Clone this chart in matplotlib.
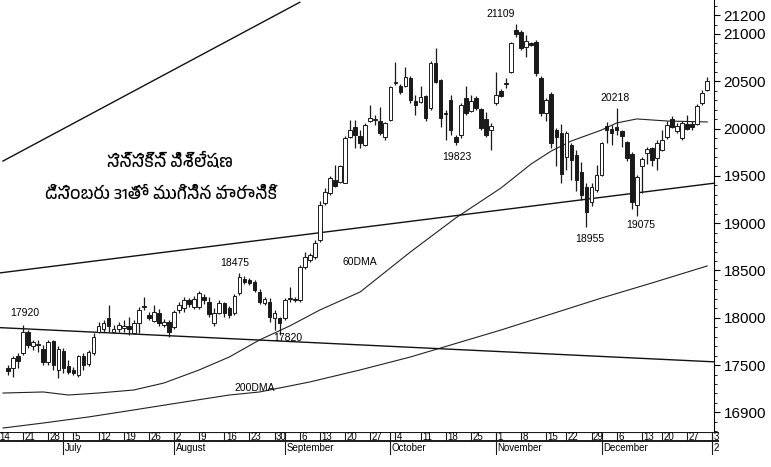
import numpy as np
import pandas as pd
import matplotlib
matplotlib.use('Agg')
import matplotlib.pyplot as plt
from matplotlib.ticker import MultipleLocator
from matplotlib import font_manager
from matplotlib.ft2font import FT2Font

# trading calendar (BSE 2010), holidays removed
holidays = ['2010-09-10', '2010-11-17', '2010-12-17']
days = pd.bdate_range('2010-06-14', '2011-01-03')
days = days[~days.isin(pd.to_datetime(holidays))]

# daily Sensex candles, 16 Jun - 31 Dec 2010 (calendar index 2 onwards)
first_candle = 2
opens = [17470, 17465, 17600, 17625, 17845, 17705, 17715, 17675, 17530, 17755,
         17450, 17650, 17490, 17450, 17395, 17595, 17510, 17625, 17850, 17880,
         17995, 17845, 17880, 17890, 17915, 17835, 17940, 18110, 18030, 17965,
         18050, 17925, 17955, 17905, 18080, 18100, 18188, 18115, 18115, 18225,
         18170, 17940, 18050, 18155, 18100, 18050, 18260, 18405, 18400, 18380,
         18275, 18160, 18170, 17995, 17995, 17995, 18195, 18200, 18190, 18540,
         18610, 18645, 18823, 19210, 19315, 19455, 19440, 19430, 19915, 20020,
         19920, 19827, 20075, 20095, 20075, 19915, 20090, 20480, 20450, 20445,
         20530, 20290, 20285, 20345, 20215, 20690, 20515, 20155, 20300, 19915,
         19930, 20320, 20185, 20320, 20205, 20100, 19985, 20270, 20400, 20475,
         20600, 21040, 21025, 20860, 20900, 20920, 20530, 20160, 20365, 19985,
         19950, 19700, 19827, 19720, 19545, 19385, 19225, 19350, 19510, 20030,
         20000, 20020, 19975, 19860, 19735, 19190, 19600, 19740, 19790, 19685,
         19775, 19915, 20100, 19970, 19900, 20050, 20045, 20050, 20270, 20410]
highs = [17500, 17600, 17625, 17920, 17870, 17765, 17770, 17710, 17765, 17770,
         17700, 17680, 17550, 17480, 17610, 17630, 17660, 17840, 17955, 17975,
         18135, 17925, 17960, 17975, 18010, 17975, 18115, 18215, 18060, 18135,
         18090, 17990, 17975, 18080, 18170, 18220, 18210, 18230, 18280, 18250,
         18225, 18100, 18190, 18170, 18130, 18250, 18475, 18440, 18420, 18400,
         18300, 18220, 18210, 18080, 18010, 18210, 18330, 18220, 18560, 18700,
         18690, 18820, 19230, 19370, 19500, 19615, 19620, 19920, 20090, 20090,
         19980, 20060, 20250, 20145, 20225, 20070, 20450, 20700, 20475, 20655,
         20560, 20355, 20450, 20360, 20710, 20850, 20520, 20200, 20350, 19930,
         20270, 20445, 20355, 20340, 20220, 20180, 20060, 20600, 20420, 20530,
         20920, 21109, 21040, 20990, 20920, 20940, 20560, 20320, 20385, 20005,
         20050, 19970, 19850, 19770, 19650, 19420, 19420, 19620, 19860, 20065,
         20035, 20218, 19990, 19870, 19750, 19510, 19700, 19805, 19805, 19880,
         19985, 20075, 20130, 20060, 20075, 20140, 20075, 20265, 20405, 20550]
lows = [17400, 17370, 17470, 17610, 17680, 17660, 17640, 17500, 17500, 17450,
        17360, 17420, 17410, 17395, 17370, 17450, 17490, 17605, 17840, 17850,
        17850, 17840, 17855, 17855, 17820, 17825, 17840, 18080, 17980, 17955,
        17915, 17900, 17800, 17880, 18050, 18060, 18115, 18090, 18090, 18150,
        18010, 17910, 18040, 18010, 18000, 18030, 18240, 18360, 18350, 18275,
        18150, 18140, 17960, 17870, 17820, 17980, 18170, 18170, 18170, 18520,
        18590, 18620, 18800, 19190, 19300, 19380, 19420, 19420, 19900, 19790,
        19790, 19815, 20070, 20040, 19930, 19880, 20080, 20460, 20370, 20440,
        20270, 20145, 20270, 20085, 20200, 20480, 20020, 19880, 19930, 19823,
        19900, 20145, 20170, 20200, 19985, 19915, 19775, 20250, 20330, 20425,
        20590, 20970, 20830, 20760, 20870, 20560, 20130, 20075, 19800, 19600,
        19420, 19560, 19455, 19340, 19245, 18955, 19180, 19330, 19500, 19850,
        19830, 19930, 19810, 19660, 19150, 19075, 19320, 19630, 19600, 19560,
        19760, 19890, 20005, 19955, 19880, 19985, 19985, 20040, 20250, 20400]
closes = [17440, 17570, 17545, 17845, 17710, 17740, 17725, 17530, 17740, 17500,
          17670, 17465, 17430, 17415, 17595, 17500, 17635, 17800, 17910, 17945,
          17910, 17880, 17925, 17915, 17880, 17940, 18080, 18120, 17995, 18060,
          17940, 17960, 17850, 18060, 18135, 18188, 18145, 18195, 18265, 18190,
          18045, 18050, 18155, 18050, 18030, 18230, 18435, 18380, 18370, 18295,
          18170, 18200, 18010, 18050, 17940, 18188, 18205, 18190, 18540, 18645,
          18665, 18790, 19190, 19330, 19475, 19395, 19600, 19900, 19990, 19930,
          19850, 20038, 20110, 20105, 19950, 20055, 20435, 20490, 20390, 20540,
          20300, 20250, 20335, 20110, 20690, 20495, 20110, 20165, 19985, 19860,
          20250, 20160, 20290, 20215, 20005, 19930, 20030, 20355, 20345, 20485,
          20900, 21000, 20850, 20930, 20885, 20585, 20160, 20300, 19845, 19915,
          19525, 19950, 19668, 19457, 19298, 19120, 19385, 19510, 19845, 19985,
          19950, 19980, 19920, 19685, 19225, 19490, 19675, 19780, 19668, 19850,
          19880, 20040, 20020, 20030, 20055, 20000, 20015, 20240, 20380, 20505]

# moving averages (calendar index, value)
ma60_idx = [1, 9, 14, 20, 27, 33, 40, 46, 52, 58, 64, 72, 82, 91, 100, 106,
            110, 114, 120, 123, 127, 133, 141]
ma60_val = [17205, 17216, 17184, 17205, 17237, 17311, 17449, 17586, 17766,
            17914, 18083, 18273, 18696, 19055, 19372, 19626, 19763, 19869,
            19985, 20059, 20102, 20080, 20070]
ma200_idx = [1, 9, 18, 27, 37, 46, 52, 62, 72, 82, 88, 100, 110, 120, 130, 141]
ma200_val = [16835, 16888, 16952, 17026, 17110, 17184, 17216, 17322, 17449,
             17586, 17681, 17871, 18040, 18209, 18368, 18548]

# trend lines (calendar index pairs, price pairs)
trend_steep = ([1, 60], [19657, 21335])
trend_up = ([0, 143], [18472, 19427])
trend_down = ([0, 143], [17897, 17533])

# marked highs / lows (calendar index)
peak_days = [5, 48, 103, 123]
trough_days = [56, 91, 117, 127]

ytick_vals = [17000, 17500, 18000, 18500, 19000, 19500, 20000, 20500, 21000, 21200]
ytick_labels = ['16900', '17500', '18000', '18500', '19000', '19500', '20000',
                '20500', '21000', '21200']

title_lines = ['సెన్సెక్స్ విశ్లేషణ', 'డిసెంబరు 31తో ముగిసిన వారానికి']


def telugu_font():
    for f in font_manager.fontManager.ttflist:
        if 'telugu' in f.name.lower():
            return f.name
    for f in font_manager.fontManager.ttflist:
        try:
            if 0x0C38 in FT2Font(f.fname).get_charmap():
                return f.name
        except Exception:
            pass
    return 'DejaVu Sans'


plt.rcParams['font.family'] = ['Liberation Sans', 'DejaVu Sans']
W, H = 771, 467
X0, PX_PER_DAY = 0.4, 141.95 / 714   # left limit (days) and days per pixel
fig = plt.figure(figsize=(W / 100, H / 100), dpi=100)
fig.patch.set_facecolor('white')
ax = fig.add_axes([0, 1 - 432 / H, 714 / W, 432 / H])

# candles
o, h, l, c = map(np.array, (opens, highs, lows, closes))
idx = np.arange(first_candle, first_candle + len(o))
up = c >= o
ink = '#1a1a1a'
ax.vlines(idx, l, h, color=ink, lw=0.9, zorder=3)
lo = np.minimum(o, c)
bh = np.maximum(np.abs(c - o), 9)
ax.bar(idx[up], bh[up], bottom=lo[up], width=0.72, color='white',
       edgecolor=ink, lw=0.7, zorder=4)
ax.bar(idx[~up], bh[~up], bottom=lo[~up], width=0.72, color=ink,
       edgecolor=ink, lw=0.7, zorder=4)

# averages and trend lines
ax.plot(ma60_idx, ma60_val, color='#222222', lw=0.8, zorder=2)
ax.plot(ma200_idx, ma200_val, color='#222222', lw=0.8, zorder=2)
for xs, ys in (trend_steep, trend_up, trend_down):
    ax.plot(xs, ys, color='#111111', lw=1.0, zorder=2)

# labels on highs / lows
lab_kw = dict(textcoords='offset pixels', ha='center', va='center', fontsize=7.5)
peak_off = {5: (2, 12), 48: (-5, 10), 103: (-15, 10), 123: (-2, 10)}
trough_off = {56: (8, -3), 91: (1, -12), 117: (3, -12), 127: (4, -9)}
for d in peak_days:
    v = highs[d - first_candle]
    ax.annotate(str(v), (d, v), xytext=peak_off[d], **lab_kw)
for d in trough_days:
    v = lows[d - first_candle]
    ax.annotate(str(v), (d, v), xytext=trough_off[d], **lab_kw)
ax.annotate('60DMA', (72, ma60_val[ma60_idx.index(72)]), xytext=(0, 30), **lab_kw)
ax.annotate('200DMA', (52, ma200_val[ma200_idx.index(52)]), xytext=(-5, 4), **lab_kw)

ax.set_xlim(X0, X0 + 714 * PX_PER_DAY)
ax.set_ylim(16793, 21359)
ax.yaxis.tick_right()
ax.set_yticks(ytick_vals)
ax.set_yticklabels(ytick_labels)
ax.yaxis.set_minor_locator(MultipleLocator(100))
ax.tick_params(axis='y', which='major', length=4, width=0.8, pad=3, labelsize=11)
ax.tick_params(axis='y', which='minor', length=2, width=0.6)
ax.set_xticks([])
for s in ('left', 'top', 'bottom'):
    ax.spines[s].set_visible(False)
ax.spines['right'].set_linewidth(0.8)

# Telugu caption
tel = telugu_font()
fig.text(170 / W, 1 - 161 / H, title_lines[0], ha='center', va='center',
         fontsize=12, fontweight='bold', family=[tel, 'DejaVu Sans'])
fig.text(161 / W, 1 - 194 / H, title_lines[1], ha='center', va='center',
         fontsize=12, fontweight='bold', family=[tel, 'DejaVu Sans'])

# date strip below the chart, a little wider than the plot
STRIP_W = 719
tax = fig.add_axes([0, 1 - 455 / H, STRIP_W / W, 23 / H])
tax.set_xlim(X0, X0 + STRIP_W * PX_PER_DAY)
tax.set_ylim(0, 1)
tax.axis('off')
split = 1 - 9 / 23
tax.axhline(1, color=ink, lw=0.8)
tax.axhline(split, color=ink, lw=1.4)

cal = pd.Series(np.arange(len(days)), index=days)
week_starts = cal.groupby(days.to_period('W')).min().values
month_starts = cal.groupby(days.to_period('M')).min().values[1:]

tax.vlines(week_starts, split, 1, color=ink, lw=0.8)
tax.vlines(month_starts, 0, 1, color=ink, lw=0.8)
for k in week_starts:
    t = tax.annotate(str(days[k].day), (k, (1 + split) / 2), xytext=(1.5, 0),
                     textcoords='offset pixels', ha='left', va='center',
                     fontsize=7, annotation_clip=False)
    t.set_clip_box(tax.bbox)
    t.set_clip_on(True)
for k in month_starts:
    name = days[k].strftime('%B') if days[k].month != 1 else str(days[k].year)
    t = tax.annotate(name, (k, split / 2), xytext=(1.5, 0),
                     textcoords='offset pixels', ha='left', va='center',
                     fontsize=7, annotation_clip=False)
    t.set_clip_box(tax.bbox)
    t.set_clip_on(True)

fig.savefig('out.png', dpi=100, facecolor='white')
